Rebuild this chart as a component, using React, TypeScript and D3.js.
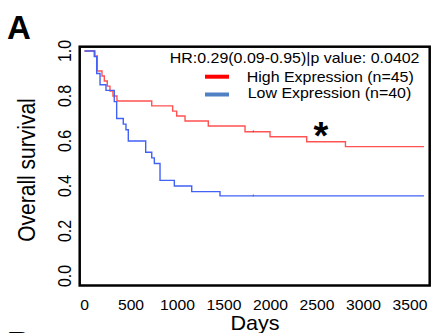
import React from 'react';
import * as d3 from 'd3';

// Kaplan-Meier steps
const highDays = [0, 113, 138, 188, 213, 245, 274, 306, 349, 723, 948, 991, 1081, 1331, 1726, 1995, 2389, 2806, 3650];
const highSurv = [1, 0.978, 0.911, 0.889, 0.867, 0.844, 0.822, 0.8, 0.778, 0.756, 0.733, 0.711, 0.689, 0.667, 0.641, 0.619, 0.597, 0.575, 0.575];
const lowDays = [0, 105, 131, 167, 231, 320, 346, 417, 446, 471, 658, 723, 751, 812, 966, 1153, 1457, 3650];
const lowSurv = [1, 0.975, 0.9, 0.85, 0.825, 0.775, 0.7, 0.675, 0.65, 0.6, 0.55, 0.525, 0.5, 0.425, 0.4, 0.375, 0.356, 0.356];
const censorDays = [1815];

const xTicks = [0, 500, 1000, 1500, 2000, 2500, 3000, 3500];
const yTicks = [0, 0.2, 0.4, 0.6, 0.8, 1.0];

const legendLabels = ['High Expression (n=45)', 'Low Expression (n=40)'];
const legendColours = ['#ff0000', '#4f81c4'];
const curveColours = ['#ff5252', '#4262f5'];
const headerText = 'HR:0.29(0.09-0.95)|p value: 0.0402';

const W = 432;
const H = 333;
const font = 'Liberation Sans, Arial, sans-serif';

const App: React.FC = () => {
  const x = d3.scaleLinear().domain([0, 3500]).range([84.5, 410]);
  const y = d3.scaleLinear().domain([0, 1]).range([276, 51]);

  const line = d3.line<[number, number]>()
    .x(d => x(d[0]))
    .y(d => y(d[1]))
    .curve(d3.curveStepAfter);

  const high = highDays.map((d, i) => [d, highSurv[i]] as [number, number]);
  const low = lowDays.map((d, i) => [d, lowSurv[i]] as [number, number]);

  const survAt = (days: number[], surv: number[], t: number) => {
    const i = d3.bisectRight(days, t) - 1;
    return surv[Math.max(0, i)];
  };

  return (
    <svg width={W} height={H} style={{ position: 'absolute', left: 0, top: 0, background: '#fff' }}>
      {/* panel letters (B belongs to the next panel, cut off at the bottom) */}
      <text x={7} y={39} fontFamily={font} fontWeight="bold" fontSize={33}>A</text>
      <text x={7} y={355} fontFamily={font} fontWeight="bold" fontSize={33}>B</text>

      {/* curves */}
      <path d={line(high) ?? ''} fill="none" stroke={curveColours[0]} strokeWidth={1.4} />
      <path d={line(low) ?? ''} fill="none" stroke={curveColours[1]} strokeWidth={1.4} />
      {censorDays.map(c => (
        <g key={c}>
          <line x1={x(c)} x2={x(c)} y1={y(survAt(highDays, highSurv, c)) - 1.5} y2={y(survAt(highDays, highSurv, c)) + 0.5} stroke="#555" strokeWidth={0.8} />
          <line x1={x(c)} x2={x(c)} y1={y(survAt(lowDays, lowSurv, c)) - 1.5} y2={y(survAt(lowDays, lowSurv, c)) + 0.5} stroke="#555" strokeWidth={0.8} />
        </g>
      ))}

      {/* frame */}
      <rect x={79.7} y={46.7} width={350} height={238.8} fill="none" stroke="#000" strokeWidth={2.5} />

      {/* x tick labels */}
      {xTicks.map(t => (
        <text key={t} transform={`translate(${x(t)},309.5) scale(1.12,1)`} textAnchor="middle"
          fontFamily={font} fontSize={14}>{t}</text>
      ))}
      <text transform="translate(255,329.5) scale(1.08,1)" textAnchor="middle" fontFamily={font} fontSize={20}>Days</text>

      {/* y tick labels */}
      {yTicks.map(t => (
        <text key={t} transform={`translate(71,${y(t)}) scale(1.15,1) rotate(-90)`} textAnchor="middle"
          fontFamily={font} fontSize={16}>{t.toFixed(1)}</text>
      ))}
      <text transform="translate(35,170) scale(1.1,1) rotate(-90)" textAnchor="middle" fontFamily={font} fontSize={21}>Overall survival</text>

      {/* header and legend */}
      <text transform="translate(419.5,63.3) scale(1.14,1)" textAnchor="end" fontFamily={font} fontSize={14}>{headerText}</text>
      {legendLabels.map((l, i) => (
        <g key={l}>
          <line x1={205} x2={229} y1={76.7 + i * 17.8} y2={76.7 + i * 17.8} stroke={legendColours[i]} strokeWidth={4} />
          <text transform={`translate(${246.7 + i},${81.7 + i * 16}) scale(1.14,1)`} fontFamily={font} fontSize={14}>{l}</text>
        </g>
      ))}

      {/* significance mark */}
      <text x={321} y={148.5} textAnchor="middle" fontFamily={font} fontWeight="bold" fontSize={38}>*</text>
    </svg>
  );
};

export default App;
